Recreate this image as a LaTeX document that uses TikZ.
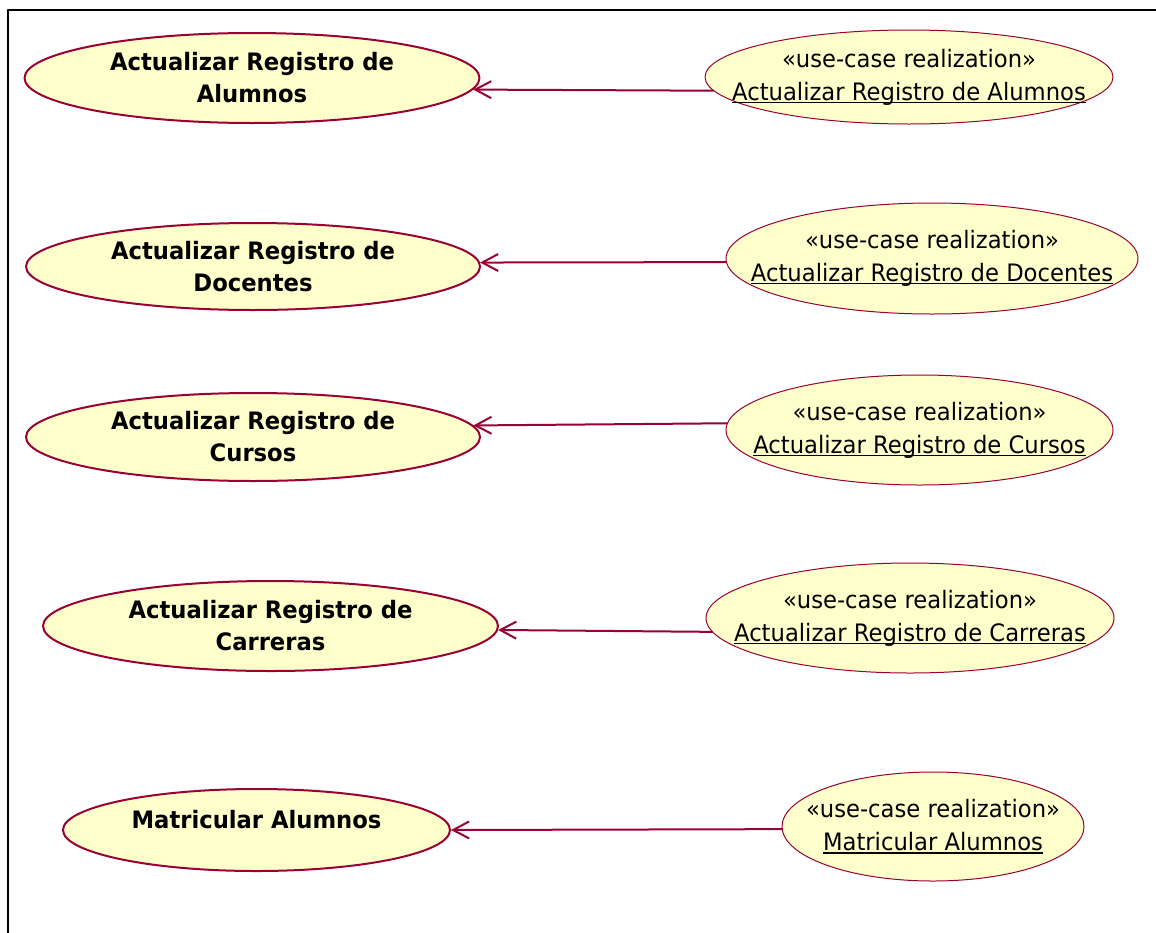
\documentclass[tikz,border=0pt]{standalone}
\usepackage{fontspec}
\setmainfont{DejaVu Sans}[FakeStretch=0.945]
\usetikzlibrary{shapes.geometric,arrows.meta}
\definecolor{rosered}{HTML}{990033}
\definecolor{ucfill}{HTML}{FFFFCC}
\newcommand\realname[1]{\setbox0\hbox{#1}\rlap{\rule[-1.4pt]{\wd0}{0.7pt}}\box0}
% zero width lines, so the ellipse keeps its own size
\newcommand\realizes[1]{\makebox[0pt]{«use-case realization»}\\\makebox[0pt]{\realname{#1}}}
\tikzset{
	usecase/.style={ellipse,draw=rosered,line width=1pt,fill=ucfill,inner sep=0pt,align=center,
		font=\fontsize{12}{16}\selectfont\bfseries},
	realization/.style={ellipse,draw=rosered,line width=0.5pt,fill=ucfill,inner sep=0pt,align=center,
		font=\fontsize{12}{16.5}\selectfont},
	realizes/.style={->,draw=rosered,line width=1pt}
}
\begin{document}
\begin{tikzpicture}[x=0.5pt,y=-0.5pt,>={Straight Barb[length=8pt,width=8.5pt]},line join=round,line cap=round]
			\def\xmax{1156}
			\def\ymax{932}
			\useasboundingbox (0,0) rectangle (\xmax,\ymax);
			\clip (0,0) rectangle (\xmax,\ymax);
			\fill [white] (0,0) rectangle (\xmax,\ymax);
			\draw [line width=1pt] (8,\ymax+10)--(8,10)--(\xmax+10,10);
			\node [usecase,minimum width=227.5pt,minimum height=45pt] (lA) at (252,78) {Actualizar Registro de\\Alumnos};
			\node [usecase,minimum width=227pt,minimum height=43.5pt] (lB) at (253,266.5) {Actualizar Registro de\\Docentes};
			\node [usecase,minimum width=227pt,minimum height=44pt] (lC) at (253,437) {Actualizar Registro de\\Cursos};
			\node [usecase,minimum width=227.5pt,minimum height=45pt] (lD) at (270.5,626) {Actualizar Registro de\\Carreras};
			\node [usecase,minimum width=193.5pt,minimum height=41pt,text depth=11pt] (lE) at (256.5,830) {Matricular Alumnos};
			\node [realization,minimum width=204pt,minimum height=47pt] (rA) at (909,77) {\realizes{Actualizar Registro de Alumnos}};
			\node [realization,minimum width=206pt,minimum height=55.5pt] (rB) at (932,258.5) {\realizes{Actualizar Registro de Docentes}};
			\node [realization,minimum width=193.5pt,minimum height=55pt] (rC) at (919.5,430) {\realizes{Actualizar Registro de Cursos}};
			\node [realization,minimum width=204pt,minimum height=55pt] (rD) at (910,618) {\realizes{Actualizar Registro de Carreras}};
			\node [realization,minimum width=151pt,minimum height=54.5pt] (rE) at (933,826.5) {\realizes{Matricular Alumnos}};
			\draw [realizes] (rA.184.5)--(lA.-3.6);
			\draw [realizes] (rB.181)--(lB.1.4);
			\draw [realizes] (rC.178.8)--(lC.3.1);
			\draw [realizes] (rD.184)--(lD.-1.5);
			\draw [realizes] (rE.181.1)--(lE.-0.6);
		\end{tikzpicture}
\end{document}
